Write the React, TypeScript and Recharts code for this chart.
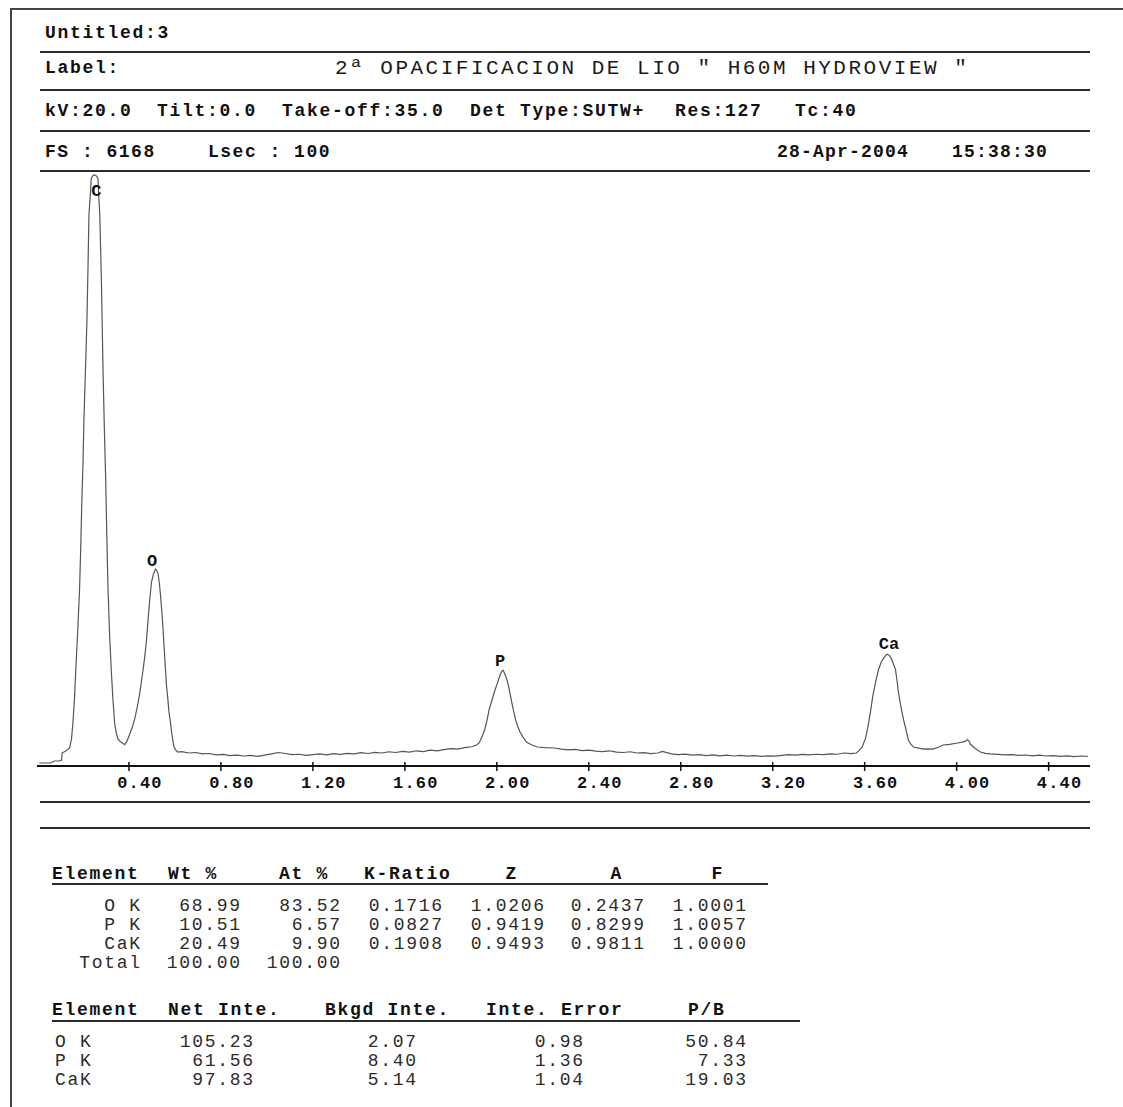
import React from "react";
import { LineChart, Line, XAxis, YAxis, ReferenceDot } from "recharts";

// EDS spectrum: [energy keV, counts]
const spectrumPoints: [number, number][] = [
  [0.01, 31], [0.06, 31], [0.075, 52], [0.095, 52], [0.107, 62], [0.109, 135],
  [0.125, 156], [0.142, 187], [0.15, 280], [0.156, 436], [0.163, 700], [0.171, 1111],
  [0.178, 1450], [0.185, 1827], [0.19, 2250], [0.195, 2740], [0.2, 3150], [0.204, 3581],
  [0.21, 4050], [0.217, 4609], [0.222, 5200], [0.226, 5730], [0.231, 5900], [0.236, 6104],
  [0.245, 6135], [0.255, 6135], [0.265, 6104], [0.269, 5900], [0.273, 5730], [0.28, 5055],
  [0.287, 4131], [0.293, 3500], [0.299, 2948], [0.304, 2350], [0.309, 1827], [0.316, 1350],
  [0.323, 996], [0.33, 700], [0.338, 436], [0.345, 340], [0.352, 280], [0.362, 255],
  [0.372, 238], [0.381, 222], [0.39, 250],
  [0.395, 280], [0.403, 330], [0.414, 400], [0.425, 490], [0.436, 610], [0.447, 760],
  [0.458, 940], [0.468, 1120], [0.476, 1300], [0.483, 1515], [0.49, 1720], [0.498, 1910],
  [0.506, 1990], [0.515, 2045], [0.521, 2030], [0.527, 1993], [0.533, 1880], [0.538, 1754],
  [0.543, 1600], [0.548, 1432], [0.556, 1111], [0.563, 841], [0.569, 700], [0.574, 561],
  [0.58, 460], [0.585, 363], [0.59, 280], [0.596, 197], [0.605, 160], [0.613, 145],
  [0.63, 150], [0.66, 135], [0.69, 140], [0.72, 125], [0.75, 130], [0.78, 115],
  [0.81, 120], [0.84, 108], [0.87, 112], [0.9, 104], [0.93, 110], [0.96, 100],
  [0.99, 112], [1.02, 125], [1.05, 140], [1.08, 130], [1.11, 118], [1.14, 122],
  [1.17, 110], [1.2, 118], [1.23, 125], [1.26, 115], [1.29, 128], [1.32, 120],
  [1.35, 132], [1.38, 125], [1.41, 138], [1.44, 130], [1.47, 142], [1.5, 135],
  [1.53, 148], [1.56, 140], [1.59, 152], [1.62, 145], [1.65, 158], [1.68, 150],
  [1.71, 165], [1.74, 158], [1.77, 170], [1.8, 180], [1.83, 175], [1.86, 190],
  [1.89, 200], [1.91, 215],
  [1.923, 239], [1.935, 300], [1.947, 374], [1.957, 470], [1.966, 581], [1.977, 670],
  [1.988, 758], [1.998, 830], [2.007, 893], [2.015, 950], [2.022, 986], [2.027, 995],
  [2.031, 976], [2.04, 925], [2.048, 862], [2.056, 770], [2.063, 685], [2.072, 580],
  [2.082, 477], [2.091, 410], [2.101, 353], [2.115, 295], [2.129, 249], [2.15, 220],
  [2.176, 197], [2.21, 190], [2.251, 187],
  [2.28, 175], [2.31, 168], [2.34, 172], [2.37, 160], [2.4, 165], [2.43, 155],
  [2.46, 150], [2.49, 158], [2.52, 145], [2.55, 140], [2.58, 148], [2.61, 135],
  [2.64, 138], [2.67, 128], [2.7, 135], [2.72, 152], [2.76, 126], [2.79, 118],
  [2.82, 124], [2.85, 112], [2.88, 118], [2.91, 108], [2.94, 115], [2.97, 105],
  [3.0, 112], [3.03, 104], [3.06, 110], [3.09, 102], [3.12, 108], [3.15, 100],
  [3.18, 106], [3.21, 102], [3.24, 110], [3.27, 118], [3.3, 112], [3.33, 120],
  [3.36, 115], [3.39, 122], [3.42, 118], [3.45, 126], [3.48, 122], [3.51, 135],
  [3.54, 128], [3.564, 135],
  [3.575, 160], [3.59, 200], [3.605, 300], [3.615, 420], [3.625, 560], [3.635, 720],
  [3.648, 880], [3.66, 1000], [3.672, 1080], [3.685, 1130], [3.697, 1160], [3.706, 1150],
  [3.715, 1120], [3.725, 1060], [3.734, 1000], [3.741, 880], [3.747, 760], [3.755, 650],
  [3.763, 550], [3.77, 470], [3.777, 405], [3.784, 330], [3.79, 270], [3.8, 230],
  [3.812, 197], [3.835, 185], [3.855, 176], [3.875, 178], [3.898, 176], [3.92, 195],
  [3.941, 218], [3.97, 225], [4.003, 239], [4.025, 248], [4.04, 258], [4.047, 275],
  [4.053, 262], [4.06, 225], [4.08, 185], [4.103, 145], [4.125, 132], [4.147, 125],
  [4.18, 120], [4.21, 115], [4.24, 118], [4.27, 110], [4.3, 114], [4.33, 106],
  [4.36, 112], [4.39, 104], [4.42, 108], [4.45, 100], [4.48, 106], [4.51, 98],
  [4.54, 104], [4.57, 100],
];

const energyTicks = [0.4, 0.8, 1.2, 1.6, 2.0, 2.4, 2.8, 3.2, 3.6, 4.0, 4.4];
const fullScale = 6168;

const peakNames = ["C", "O", "P", "Ca"];
const peakKeV = [0.258, 0.501, 2.014, 3.706];
const peakLabelCounts = [5984, 2138, 1100, 1277];

// quant tables
const elements = ["O K", "P K", "CaK"];
const wtPct = ["68.99", "10.51", "20.49"];
const atPct = ["83.52", "6.57", "9.90"];
const kRatio = ["0.1716", "0.0827", "0.1908"];
const zCorr = ["1.0206", "0.9419", "0.9493"];
const aCorr = ["0.2437", "0.8299", "0.9811"];
const fCorr = ["1.0001", "1.0057", "1.0000"];
const totals = ["100.00", "100.00"];

const netInte = ["105.23", "61.56", "97.83"];
const bkgdInte = ["2.07", "8.40", "5.14"];
const inteError = ["0.98", "1.36", "1.04"];
const pbRatio = ["50.84", "7.33", "19.03"];

const MONO = "'Liberation Mono', 'DejaVu Sans Mono', monospace";
const W = 1123;

type TProps = {
  x: number;
  base: number;
  size?: number;
  bold?: boolean;
  sp?: number;
  align?: "left" | "right" | "center";
  color?: string;
  children: React.ReactNode;
};

function T({ x, base, size = 18, bold = true, sp = 1.7, align = "left", color, children }: TProps) {
  const style: React.CSSProperties = {
    position: "absolute",
    top: base - 0.767 * size,
    fontFamily: MONO,
    fontSize: size,
    lineHeight: `${size}px`,
    fontWeight: bold ? 700 : 400,
    letterSpacing: sp,
    whiteSpace: "pre",
    color: color || (bold ? "#111" : "#2b2b2b"),
  };
  if (align === "right") style.right = W - x - sp;
  else if (align === "center") {
    style.left = x - 100;
    style.width = 200 + sp;
    style.textAlign = "center";
  } else style.left = x;
  return <div style={style}>{children}</div>;
}

function HLine({ y, x1 = 40, x2 = 1090, h = 2 }: { y: number; x1?: number; x2?: number; h?: number }) {
  return (
    <div
      style={{ position: "absolute", left: x1, top: y - h / 2, width: x2 - x1, height: h, background: "#2a2a2a" }}
    />
  );
}

function EnergyTick(props: any) {
  const { x, y, payload } = props;
  return (
    <g>
      <line x1={x} x2={x} y1={y - 4} y2={y + 5} stroke="#111" strokeWidth={1.5} />
      <text
        x={x + 11}
        y={y + 22}
        textAnchor="middle"
        fontFamily={MONO}
        fontSize={17}
        fontWeight={700}
        letterSpacing={1.2}
        fill="#111"
      >
        {Number(payload.value).toFixed(2)}
      </text>
    </g>
  );
}

export default function App() {
  const data = spectrumPoints.map(([e, c]) => ({ e, c }));
  const rows1 = [911, 930, 949];
  const rows2 = [1047, 1066, 1085];

  return (
    <div style={{ position: "absolute", left: 0, top: 0, width: W, height: 1107, background: "#fff", overflow: "hidden" }}>
      {/* page frame */}
      <div style={{ position: "absolute", left: 10, top: 8, width: 1.5, height: 1100, background: "#444" }} />
      <div style={{ position: "absolute", left: 10, top: 8, width: 1113, height: 1.5, background: "#444" }} />

      {/* header block */}
      <T x={45} base={38}>Untitled:3</T>
      <HLine y={52} />
      <T x={45} base={73}>Label:</T>
      <T x={335} base={74} size={21} bold={false} sp={2.5} color="#1a1a1a">
        2ª OPACIFICACION DE LIO " H60M HYDROVIEW "
      </T>
      <HLine y={90} />
      <T x={45} base={116}>kV:20.0</T>
      <T x={157} base={116}>Tilt:0.0</T>
      <T x={282} base={116}>Take-off:35.0</T>
      <T x={470} base={116}>Det Type:SUTW+</T>
      <T x={675} base={116}>Res:127</T>
      <T x={795} base={116}>Tc:40</T>
      <HLine y={131} />
      <T x={45} base={157} sp={1.5}>FS : 6168</T>
      <T x={208} base={157} sp={1.5}>Lsec : 100</T>
      <T x={777} base={157} sp={1.2}>28-Apr-2004</T>
      <T x={952} base={157} sp={1.2}>15:38:30</T>
      <HLine y={171} />

      {/* spectrum */}
      <div style={{ position: "absolute", left: 0, top: 0 }}>
        <LineChart width={W} height={800} data={data} margin={{ top: 172, right: 33, bottom: 4, left: 37 }}>
          <XAxis
            dataKey="e"
            type="number"
            domain={[0, 4.58]}
            ticks={energyTicks}
            interval={0}
            height={30}
            tickSize={0}
            tickMargin={0}
            tickLine={false}
            axisLine={{ stroke: "#111", strokeWidth: 2 }}
            tick={<EnergyTick />}
          />
          <YAxis hide type="number" domain={[0, fullScale]} />
          <Line
            type="linear"
            dataKey="c"
            stroke="#555"
            strokeWidth={1.2}
            dot={false}
            isAnimationActive={false}
          />
          {peakNames.map((name, i) => (
            <ReferenceDot
              key={name}
              x={peakKeV[i]}
              y={peakLabelCounts[i]}
              r={0}
              fill="none"
              stroke="none"
              label={{
                value: name,
                position: "center",
                fill: "#111",
                fontSize: 17,
                fontWeight: 700,
                fontFamily: MONO,
              }}
            />
          ))}
        </LineChart>
      </div>

      <HLine y={802} />
      <HLine y={828} />

      {/* composition table */}
      <T x={52} base={879}>Element</T>
      <T x={168} base={879}>Wt %</T>
      <T x={279} base={879}>At %</T>
      <T x={364} base={879}>K-Ratio</T>
      <T x={511} base={879} align="center">Z</T>
      <T x={616} base={879} align="center">A</T>
      <T x={717} base={879} align="center">F</T>
      <HLine y={884} x1={52} x2={768} />
      {elements.map((el, i) => (
        <React.Fragment key={el}>
          <T x={140} base={rows1[i]} bold={false} align="right">{el}</T>
          <T x={240} base={rows1[i]} bold={false} align="right">{wtPct[i]}</T>
          <T x={340} base={rows1[i]} bold={false} align="right">{atPct[i]}</T>
          <T x={442} base={rows1[i]} bold={false} align="right">{kRatio[i]}</T>
          <T x={544} base={rows1[i]} bold={false} align="right">{zCorr[i]}</T>
          <T x={644} base={rows1[i]} bold={false} align="right">{aCorr[i]}</T>
          <T x={746} base={rows1[i]} bold={false} align="right">{fCorr[i]}</T>
        </React.Fragment>
      ))}
      <T x={140} base={968} bold={false} align="right">Total</T>
      <T x={240} base={968} bold={false} align="right">{totals[0]}</T>
      <T x={340} base={968} bold={false} align="right">{totals[1]}</T>

      {/* intensity table */}
      <T x={52} base={1015}>Element</T>
      <T x={168} base={1015}>Net Inte.</T>
      <T x={325} base={1015}>Bkgd Inte.</T>
      <T x={486} base={1015}>Inte. Error</T>
      <T x={688} base={1015}>P/B</T>
      <HLine y={1021} x1={52} x2={800} />
      {elements.map((el, i) => (
        <React.Fragment key={el + "2"}>
          <T x={55} base={rows2[i]} bold={false}>{el}</T>
          <T x={253} base={rows2[i]} bold={false} align="right">{netInte[i]}</T>
          <T x={416} base={rows2[i]} bold={false} align="right">{bkgdInte[i]}</T>
          <T x={583} base={rows2[i]} bold={false} align="right">{inteError[i]}</T>
          <T x={746} base={rows2[i]} bold={false} align="right">{pbRatio[i]}</T>
        </React.Fragment>
      ))}
    </div>
  );
}
